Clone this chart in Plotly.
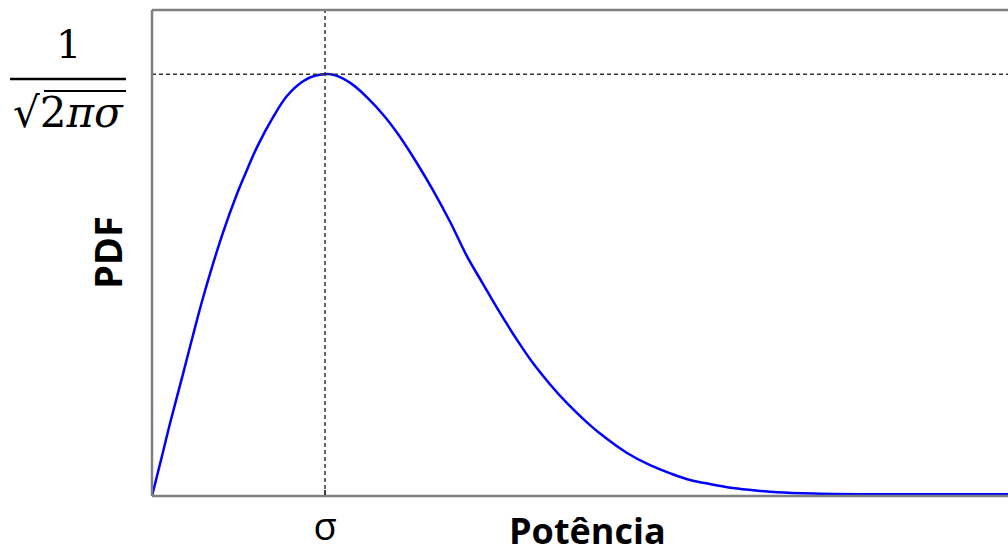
import plotly.graph_objects as go

# Curve (x in units of sigma, PDF normalised to its peak)
x_sigma = [0, 0.064, 0.104, 0.179, 0.237, 0.295, 0.405, 0.491, 0.549, 0.607, 0.700,
           0.780, 0.873, 0.94, 1.0, 1.06, 1.15, 1.243, 1.34, 1.434, 1.53,
           1.624, 1.723, 1.821, 1.913, 2.012, 2.110, 2.202, 2.30, 2.399, 2.50,
           2.590, 2.746, 2.879, 3.000, 3.110, 3.230, 3.358, 3.490, 3.613, 3.821,
           4.2, 4.6, 4.948]
pdf = [0, 0.105, 0.172, 0.289, 0.381, 0.470, 0.618, 0.716, 0.773, 0.827, 0.898,
       0.948, 0.983, 0.996, 1.0, 0.997, 0.978, 0.945, 0.902, 0.851, 0.790,
       0.725, 0.650, 0.568, 0.503, 0.434, 0.370, 0.315, 0.265, 0.220, 0.180,
       0.148, 0.102, 0.073, 0.053, 0.038, 0.028, 0.019, 0.013, 0.009, 0.006,
       0.004, 0.004, 0.004]

peak_x = 1.0
peak_y = 1.0
x_tick_vals = [1.0]
x_tick_text = ["σ"]
x_range = [0, 4.948]
y_range = [0, 1.152]

W, H = 1008, 554
L, R, T, B = 152, 0, 10, 58
PW, PH = W - L - R, H - T - B


def px_x(p):
    return (p - L) / PW


def px_y(p):
    return (H - B - p) / PH


fig = go.Figure()
fig.add_trace(go.Scatter(
    x=x_sigma, y=pdf, mode="lines",
    line=dict(color="#0000ff", width=2.5, shape="spline", smoothing=1.0),
    hoverinfo="skip", showlegend=False,
))

shapes = [
    # dashed guide lines
    dict(type="line", xref="x", yref="paper", x0=peak_x, x1=peak_x, y0=0, y1=1,
         line=dict(color="#333333", width=1.5, dash="4px,3px")),
    dict(type="line", xref="paper", yref="y", x0=0, x1=1, y0=peak_y, y1=peak_y,
         line=dict(color="#333333", width=1.5, dash="4px,3px")),
    # frame (left, top, bottom)
    dict(type="line", xref="paper", yref="paper", x0=0, x1=0, y0=0, y1=1,
         line=dict(color="#808080", width=2.5)),
    dict(type="line", xref="paper", yref="paper", x0=0, x1=1, y0=1, y1=1,
         line=dict(color="#808080", width=2.5)),
    dict(type="line", xref="paper", yref="paper", x0=0, x1=1, y0=0, y1=0,
         line=dict(color="#808080", width=2.5)),
    # fraction bar of y tick label
    dict(type="line", xref="paper", yref="paper", x0=px_x(10), x1=px_x(126),
         y0=px_y(79), y1=px_y(79), line=dict(color="black", width=2.5)),
    # vinculum of the square root
    dict(type="line", xref="paper", yref="paper", x0=px_x(44), x1=px_x(126),
         y0=px_y(91), y1=px_y(91), line=dict(color="black", width=2)),
]

serif = "DejaVu Serif, serif"
annotations = [
    dict(text="1", xref="paper", yref="paper", x=px_x(68), y=px_y(44),
         showarrow=False, xanchor="center", yanchor="middle",
         font=dict(family=serif, size=40, color="black")),
    dict(text="√2<i>πσ</i>",
         xref="paper", yref="paper", x=px_x(68), y=px_y(113),
         showarrow=False, xanchor="center", yanchor="middle",
         font=dict(family=serif, size=42, color="black")),
    dict(text="<b>PDF</b>", xref="paper", yref="paper", x=px_x(107), y=px_y(253),
         showarrow=False, textangle=-90, xanchor="center", yanchor="middle",
         font=dict(family="Open Sans, sans-serif", size=38, color="black")),
    dict(text="<b>Potência</b>", xref="paper", yref="paper", x=px_x(587), y=px_y(530),
         showarrow=False, xanchor="center", yanchor="middle",
         font=dict(family="Open Sans, sans-serif", size=36, color="black")),
]

fig.update_layout(
    width=W, height=H,
    margin=dict(l=L, r=R, t=T, b=B, pad=0, autoexpand=False),
    paper_bgcolor="white", plot_bgcolor="white",
    shapes=shapes, annotations=annotations,
    xaxis=dict(range=x_range, showgrid=False, zeroline=False, showline=False,
               automargin=False,
               tickvals=x_tick_vals, ticktext=x_tick_text,
               ticks="inside", ticklen=6, tickwidth=2, tickcolor="#444444",
               ticklabelstandoff=5,
               tickfont=dict(family="Open Sans, sans-serif", size=38, color="black"),
               fixedrange=True),
    yaxis=dict(range=y_range, showgrid=False, zeroline=False, showline=False,
               automargin=False,
               showticklabels=False, ticks="", fixedrange=True),
)

fig.write_html(
    "out.html",
    config={"displayModeBar": False},
    post_script="document.body.style.margin='0';document.body.style.overflow='hidden';",
)
